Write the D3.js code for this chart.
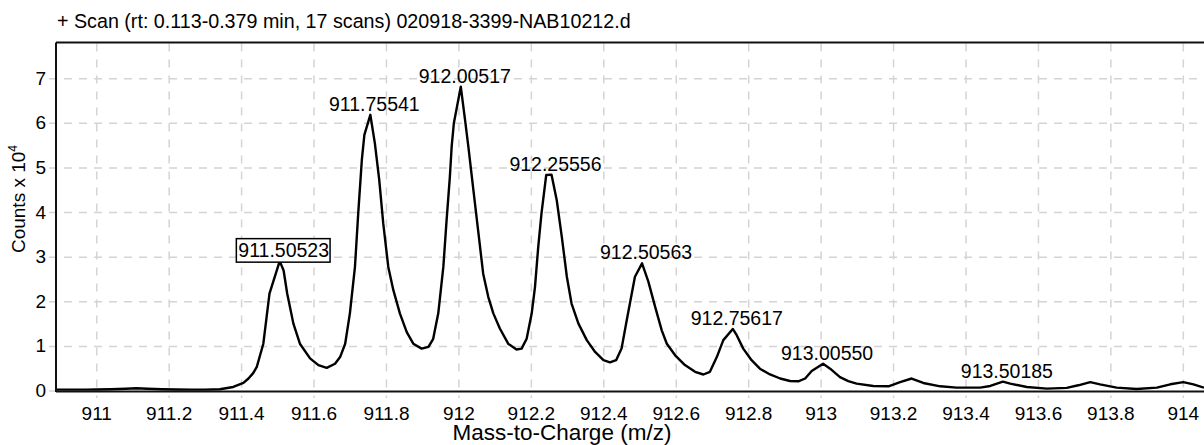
<!DOCTYPE html>
<html>
<head>
<meta charset="utf-8">
<script src="https://cdn.jsdelivr.net/npm/d3@7"></script>
<style>
  html, body { margin: 0; padding: 0; background: #fff; }
  svg { display: block; font-family: "Liberation Sans", Arial, sans-serif; }
</style>
</head>
<body>
<svg id="chart" width="1204" height="445"></svg>
<script>
// Profile spectrum: m/z and counts (x 10^4)
const mz = [
  910.888, 910.93, 910.97, 911.00, 911.04, 911.08, 911.11, 911.14, 911.18, 911.22,
  911.26, 911.30, 911.34, 911.377, 911.405, 911.419, 911.432, 911.442, 911.460, 911.477,
  911.50523, 911.516, 911.526, 911.543, 911.561, 911.589, 911.612, 911.635, 911.658, 911.672,
  911.686, 911.699, 911.713, 911.722, 911.732, 911.739, 911.75541, 911.768, 911.780, 911.791,
  911.805, 911.819, 911.837, 911.856, 911.874, 911.897, 911.916, 911.929, 911.943, 911.957,
  911.966, 911.975, 911.980, 911.986, 912.00517, 912.017, 912.026, 912.040, 912.054, 912.067,
  912.081, 912.095, 912.113, 912.136, 912.159, 912.173, 912.187, 912.201, 912.210, 912.219,
  912.228, 912.241, 912.25556, 912.270, 912.284, 912.298, 912.311, 912.330, 912.353, 912.376,
  912.399, 912.417, 912.434, 912.449, 912.465, 912.486, 912.50563, 912.523, 912.542, 912.560,
  912.574, 912.597, 912.624, 912.652, 912.675, 912.693, 912.712, 912.730, 912.75617, 912.767,
  912.785, 912.808, 912.831, 912.859, 912.887, 912.914, 912.937, 912.956, 912.974, 913.00550,
  913.025, 913.052, 913.075, 913.098, 913.144, 913.186, 913.218, 913.250, 913.282, 913.329,
  913.374, 913.439, 913.467, 913.50185, 913.522, 913.568, 913.623, 913.678, 913.710, 913.743,
  913.770, 913.816, 913.871, 913.927, 913.964, 914.000, 914.028, 914.057
];
const counts = [
  0.03, 0.03, 0.03, 0.035, 0.04, 0.05, 0.06, 0.05, 0.04, 0.035,
  0.03, 0.03, 0.04, 0.09, 0.18, 0.28, 0.40, 0.54, 1.06, 2.18,
  2.91, 2.70, 2.18, 1.51, 1.06, 0.73, 0.58, 0.52, 0.61, 0.76,
  1.06, 1.74, 2.78, 3.98, 5.18, 5.74, 6.19, 5.55, 4.73, 3.76,
  2.78, 2.26, 1.74, 1.32, 1.06, 0.95, 0.99, 1.17, 1.74, 2.78,
  3.83, 4.80, 5.48, 6.00, 6.82, 6.07, 5.48, 4.50, 3.53, 2.63,
  2.11, 1.74, 1.40, 1.06, 0.93, 0.95, 1.17, 1.74, 2.33, 3.23,
  3.98, 4.84, 4.85, 4.28, 3.46, 2.56, 1.96, 1.51, 1.14, 0.875,
  0.69, 0.643, 0.69, 0.95, 1.66, 2.56, 2.86, 2.45, 1.88, 1.36,
  1.06, 0.80, 0.58, 0.43, 0.37, 0.43, 0.76, 1.14, 1.39, 1.25,
  0.95, 0.69, 0.50, 0.37, 0.28, 0.224, 0.217, 0.28, 0.45, 0.61,
  0.50, 0.31, 0.22, 0.165, 0.113, 0.105, 0.20, 0.28, 0.18, 0.105,
  0.075, 0.075, 0.113, 0.21, 0.165, 0.09, 0.053, 0.07, 0.128, 0.20,
  0.15, 0.075, 0.045, 0.075, 0.15, 0.20, 0.15, 0.075
];

// Labelled peaks (m/z); the first one is boxed
const peakMz = [911.50523, 911.75541, 912.00517, 912.25556, 912.50563, 912.75617, 913.00550, 913.50185];
const boxedPeak = 911.50523;

// Axis ticks
const xTicks = [911, 911.2, 911.4, 911.6, 911.8, 912, 912.2, 912.4, 912.6, 912.8,
                913, 913.2, 913.4, 913.6, 913.8, 914];
const yTicks = [0, 1, 2, 3, 4, 5, 6, 7];

const titleText = "+ Scan (rt: 0.113-0.379 min, 17 scans) 020918-3399-NAB10212.d";
const xTitle = "Mass-to-Charge (m/z)";

const svg = d3.select("#chart");
const plotLeft = 56, plotRight = 1204, plotTop = 42.5, plotBottom = 391;

const x = d3.scaleLinear().domain([910.8876, 914.0571]).range([plotLeft, plotRight]);
const y = d3.scaleLinear().domain([0, 7.81]).range([plotBottom, plotTop]);

const gridColor = "#d4d4d4";
const fontSize = 19;

// Grid
const grid = svg.append("g");
grid.selectAll("line.h").data(yTicks.filter(t => t > 0)).join("line")
  .attr("x1", plotLeft - 7).attr("x2", plotRight)
  .attr("y1", d => y(d)).attr("y2", d => y(d))
  .attr("stroke", gridColor).attr("stroke-width", 1.5)
  .attr("stroke-dasharray", "8,7");
grid.append("line")
  .attr("x1", plotLeft - 7).attr("x2", plotLeft)
  .attr("y1", y(0)).attr("y2", y(0))
  .attr("stroke", gridColor).attr("stroke-width", 1.5);
grid.selectAll("line.v").data(xTicks).join("line")
  .attr("x1", d => x(d)).attr("x2", d => x(d))
  .attr("y1", plotTop + 1).attr("y2", plotBottom + 7)
  .attr("stroke", gridColor).attr("stroke-width", 1.5)
  .attr("stroke-dasharray", "8,8");

// Spectrum trace
svg.append("clipPath").attr("id", "plot-clip")
  .append("rect").attr("x", plotLeft).attr("y", plotTop)
  .attr("width", plotRight - plotLeft).attr("height", plotBottom - plotTop);

const points = mz.map((m, i) => [m, counts[i]]);
const line = d3.line().x(d => x(d[0])).y(d => y(d[1])).curve(d3.curveLinear);
svg.append("path")
  .datum(points)
  .attr("clip-path", "url(#plot-clip)")
  .attr("d", line)
  .attr("fill", "none")
  .attr("stroke", "#000")
  .attr("stroke-width", 2.4)
  .attr("stroke-linejoin", "round");

// Frame: top, left and bottom axis lines
const frame = svg.append("g").attr("stroke", "#111").attr("stroke-width", 2);
frame.append("line").attr("x1", plotLeft).attr("x2", plotRight).attr("y1", plotTop).attr("y2", plotTop);
frame.append("line").attr("x1", plotLeft).attr("x2", plotLeft).attr("y1", plotTop).attr("y2", plotBottom + 1);
frame.append("line").attr("x1", plotLeft).attr("x2", plotRight).attr("y1", plotBottom + 0.5).attr("y2", plotBottom + 0.5);

// Tick labels
svg.append("g").selectAll("text").data(yTicks).join("text")
  .attr("x", plotLeft - 10).attr("y", d => y(d) + 6)
  .attr("text-anchor", "end")
  .attr("font-size", fontSize)
  .text(d => d);

svg.append("g").selectAll("text").data(xTicks).join("text")
  .attr("x", d => x(d)).attr("y", 420)
  .attr("text-anchor", "middle")
  .attr("font-size", fontSize)
  .text(d => String(+d.toFixed(1)));

// Axis titles
svg.append("text")
  .attr("x", 562).attr("y", 440)
  .attr("text-anchor", "middle")
  .attr("font-size", 22.5)
  .text(xTitle);

const yTitle = svg.append("text")
  .attr("transform", "translate(25,199) rotate(-90)")
  .attr("text-anchor", "middle")
  .attr("font-size", fontSize);
yTitle.append("tspan").text("Counts x 10");
yTitle.append("tspan").attr("font-size", 12).attr("dy", -8).text("4");

// Chart title
svg.append("text")
  .attr("x", 57).attr("y", 28)
  .attr("font-size", 19.7)
  .text(titleText);

// Peak labels
const labels = svg.append("g");
peakMz.forEach(p => {
  const i = mz.indexOf(p);
  const v = counts[i];
  const t = labels.append("text")
    .attr("x", x(p) + 4).attr("y", y(v) - 4)
    .attr("text-anchor", "middle")
    .attr("font-size", 19.5)
    .text(p.toFixed(5));
  if (p === boxedPeak) {
    const b = t.node().getBBox();
    labels.insert("rect", "text")
      .attr("x", b.x - 2).attr("y", b.y - 0.5)
      .attr("width", b.width + 3).attr("height", b.height + 1.5)
      .attr("fill", "#fff")
      .attr("stroke", "#000").attr("stroke-width", 1.5);
  }
});
</script>
</body>
</html>
